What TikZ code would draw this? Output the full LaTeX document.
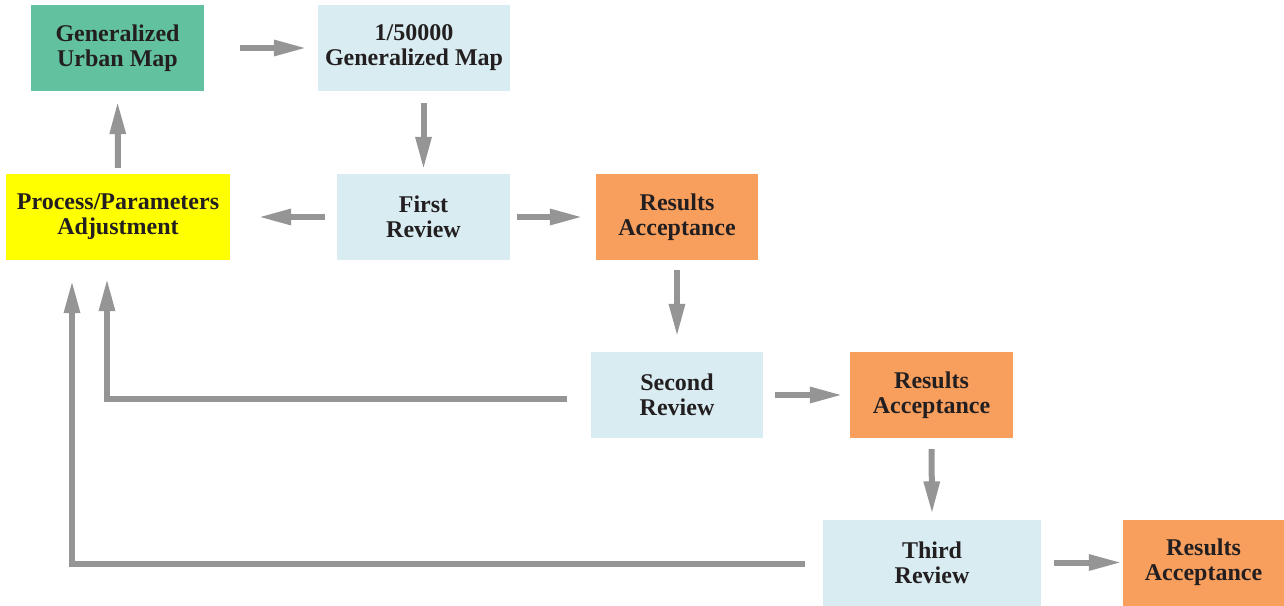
\documentclass[tikz,border=0pt]{standalone}
\usepackage{fontspec}
\setmainfont{Liberation Serif}
\usetikzlibrary{arrows.meta,calc}
\definecolor{arrgray}{HTML}{959595}
\definecolor{boxgreen}{HTML}{62C29F}
\definecolor{boxblue}{HTML}{D8ECF1}
\definecolor{boxorange}{HTML}{F89F5E}
\definecolor{boxyellow}{HTML}{FFFF00}
\definecolor{txt}{HTML}{231F20}
\tikzset{
  box/.style={draw=none, inner sep=0pt, align=center, text=txt,
    font=\fontsize{24}{25}\selectfont\bfseries},
  flow/.style={draw=arrgray, line width=6pt, line join=miter,
    -{Triangle[length=33pt,width=15pt]}},
}
\begin{document}
\begin{tikzpicture}[x=1pt,y=-1pt]
\useasboundingbox (0,0) rectangle (1284,605);
\node[box, fill=boxgreen, minimum width=173pt, minimum height=86pt] (gum) at (117.5,48) {Generalized\\Urban Map};
\node[box, fill=boxblue, minimum width=192pt, minimum height=86pt] (map) at (414,48) {1/50000\\Generalized Map};
\node[box, fill=boxyellow, minimum width=224pt, minimum height=86pt] (ppa) at (118,217) {Process/Parameters\\Adjustment};
\node[box, fill=boxblue, minimum width=173pt, minimum height=86pt] (fr) at (423.5,217) {First\\Review};
\node[box, fill=boxorange, minimum width=162pt, minimum height=86pt] (ra1) at (677,217) {Results\\Acceptance};
\node[box, fill=boxblue, minimum width=172pt, minimum height=86pt] (sr) at (677,395) {Second\\Review};
\node[box, fill=boxorange, minimum width=163pt, minimum height=86pt] (ra2) at (931.5,395) {Results\\Acceptance};
\node[box, fill=boxblue, minimum width=218pt, minimum height=86pt] (tr) at (932,562.5) {Third\\Review};
\node[box, fill=boxorange, minimum width=161pt, minimum height=86pt] (ra3) at (1203.5,562.5) {Results\\Acceptance};

\draw[flow, shorten <=36pt, shorten >=11pt] (gum.east) -- (map.west);
\draw[flow, shorten <=12pt, shorten >=4pt] (fr.north |- map.south) -- (fr.north);
\draw[flow, shorten <=12pt, shorten >=28pt] (fr.west) -- (ppa.east);
\draw[flow, shorten <=6pt, shorten >=10pt] (ppa.north) -- (gum.south);
\draw[flow, shorten <=7pt, shorten >=13pt] (fr.east) -- (ra1.west);
\draw[flow, shorten <=10pt, shorten >=15pt] (ra1.south) -- (sr.north);
\draw[flow, shorten <=12pt, shorten >=7pt] (sr.east) -- (ra2.west);
\draw[flow, shorten <=11pt, shorten >=5pt] (ra2.south) -- (tr.north);
\draw[flow, shorten <=13pt, shorten >=1pt] (tr.east) -- (ra3.west);
\draw[flow, shorten >=18pt] ($(sr.west)+(-24,4)$) -| ($(ppa.south)+(-11,0)$);
\draw[flow, shorten >=20pt] ($(tr.west)+(-18,1.5)$) -| ($(ppa.south)+(-46,0)$);
\end{tikzpicture}
\end{document}
